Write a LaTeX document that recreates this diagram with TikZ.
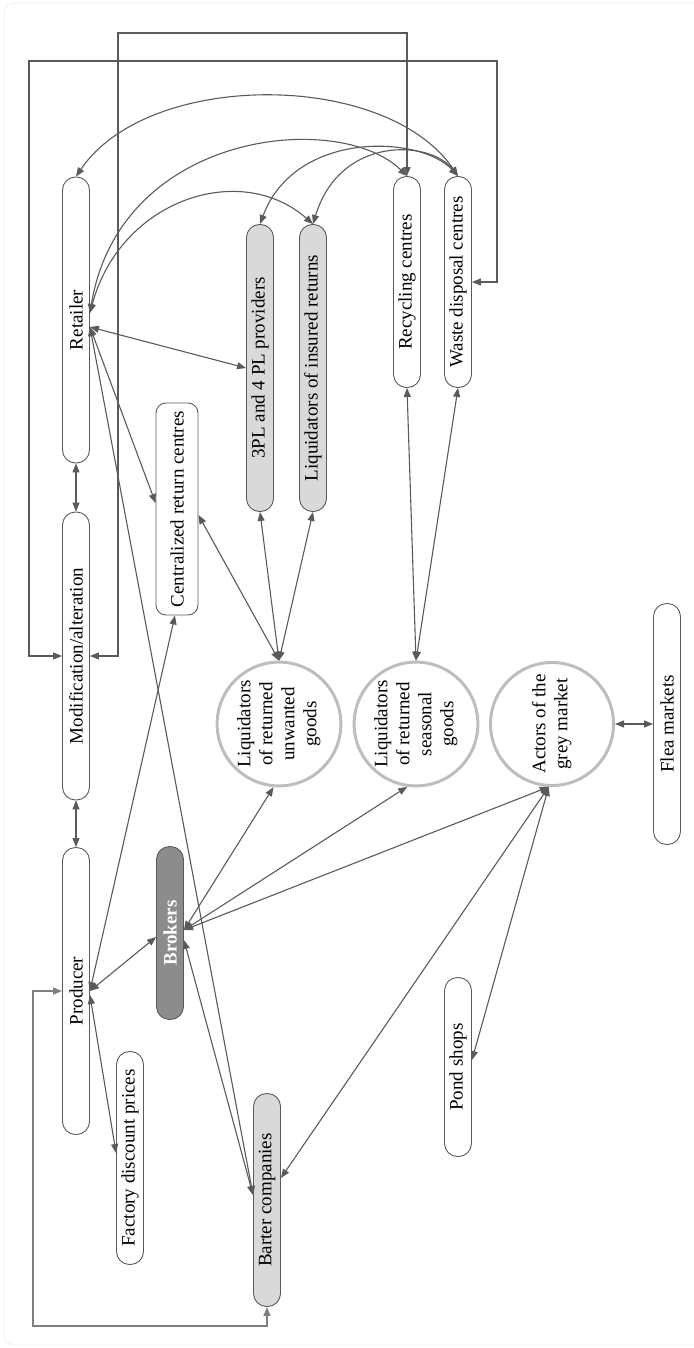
\documentclass[tikz,border=0pt]{standalone}
\usepackage{fontspec}
\setmainfont{Liberation Serif}
\usetikzlibrary{calc, arrows.meta}
\definecolor{linegray}{HTML}{5A5A5A}
\definecolor{boxgray}{HTML}{D9D9D9}
\definecolor{darkbox}{HTML}{8C8C8C}
\definecolor{ringgray}{HTML}{BDBDBD}
\definecolor{framegray}{HTML}{EDEDED}

\begin{document}
\begin{tikzpicture}[x=1pt, y=-1pt,
  font=\fontsize{19}{22}\selectfont,
  pill/.style={draw=linegray, line width=0.9pt, rounded corners=13pt,
    inner sep=0pt, minimum width=27pt},
  ring/.style={circle, draw=ringgray, line width=3pt, minimum size=123pt, inner sep=0pt},
  link/.style={draw=linegray, line width=1.1pt,
    {Triangle[length=9pt,width=7pt]}-{Triangle[length=9pt,width=7pt]}}]
  \useasboundingbox (0,0) rectangle (693,1348);
  % faint frame
  \draw[framegray, line width=0.8pt, rounded corners=10pt] (4,3) rectangle (740,1345);
  % boxes
  \node[pill, minimum height=286pt] (ret) at (76,320) {\rotatebox{90}{Retailer}};
  \node[pill, minimum height=288pt] (mod) at (76,656) {\rotatebox{90}{Modification/alteration}};
  \node[pill, minimum height=287pt] (pro) at (76,991) {\rotatebox{90}{Producer}};
  \node[pill, minimum width=42pt, rounded corners=10pt, minimum height=212pt] (cen) at (177,509)
    {\rotatebox{90}{Centralized return centres}};
  \node[pill, fill=boxgray, minimum height=287pt] (tpl) at (260,368) {\rotatebox{90}{3PL and 4 PL providers}};
  \node[pill, fill=boxgray, minimum height=287pt] (ins) at (313,368) {\rotatebox{90}{Liquidators of insured returns}};
  \node[pill, minimum height=211pt] (rec) at (407,282) {\rotatebox{90}{Recycling centres}};
  \node[pill, minimum height=211pt] (was) at (458,282) {\rotatebox{90}{Waste disposal centres}};
  \node[pill, fill=darkbox, text=white, font=\fontsize{19}{22}\selectfont\bfseries,
    minimum height=173pt] (bro) at (170,933) {\rotatebox{90}{Brokers}};
  \node[pill, minimum height=213pt] (fac) at (130,1158) {\rotatebox{90}{Factory discount prices}};
  \node[pill, fill=boxgray, minimum height=213pt] (bar) at (267,1200) {\rotatebox{90}{Barter companies}};
  \node[pill, minimum height=179pt] (pon) at (458,1067) {\rotatebox{90}{Pond shops}};
  \node[pill, minimum height=241pt] (fle) at (667,724) {\rotatebox{90}{Flea markets}};
  % circles
  \node[ring] (unw) at (279,724)
    {\rotatebox{90}{\begin{tabular}{@{}c@{}}Liquidators\\of returned\\unwanted\\goods\end{tabular}}};
  \node[ring] (sea) at (416,724)
    {\rotatebox{90}{\begin{tabular}{@{}c@{}}Liquidators\\of returned\\seasonal\\goods\end{tabular}}};
  \node[ring] (act) at (552,724)
    {\rotatebox{90}{\begin{tabular}{@{}c@{}}Actors of the\\grey market\end{tabular}}};
  % chain and brackets
  \draw[link] (ret.south) -- (mod.north);
  \draw[link] (mod.south) -- (pro.north);
  \draw[link] (mod.west) -| (29,61) -| (497,282) -- (was.east);
  \draw[link] (mod.east) -| (118,33) -| (rec.north);
  \draw[link, draw=gray, line width=1.6pt] (pro.west) -| (33,1326) -| (bar.south);
  % arcs over the top
  \draw[link] (ret.north) .. controls (148,70) and (386,70) .. (was.north);
  \draw[link] ([yshift=7pt]ret.east) .. controls (120,130) and (340,110) .. (rec.north);
  \draw[link] ([yshift=7pt]ret.east) .. controls (120,200) and (240,160) .. (ins.north);
  \draw[link] (was.north) .. controls (420,135) and (295,130) .. (tpl.north);
  \draw[link] (was.north) .. controls (430,140) and (340,135) .. (ins.north);
  % retailer
  \draw[link] ([yshift=-7pt]ret.east) -- (tpl.west);
  \draw[link] ([yshift=-7pt]ret.east) -- ([yshift=6pt]cen.west);
  \draw[link] ([yshift=-7pt]ret.east) -- ([yshift=5pt]bar.west);
  % producer
  \draw[link] (pro.east) -- ([xshift=-2pt]cen.south);
  \draw[link] (pro.east) -- ([yshift=-4pt]bro.west);
  \draw[link] ([yshift=-4pt]pro.east) -- ([yshift=5pt]fac.west);
  % brokers
  \draw[link] ([yshift=3pt]bro.east) -- (unw.-95);
  \draw[link] ([yshift=3pt]bro.east) -- (sea.-98);
  \draw[link] ([yshift=3pt]bro.east) -- (act.-93);
  \draw[link] ([yshift=-7pt]bro.east) -- ([yshift=5pt]bar.west);
  % liquidators
  \draw[link] (unw.north) -- ([yshift=-6pt]cen.east);
  \draw[link] (unw.north) -- (tpl.south);
  \draw[link] (unw.north) -- (ins.south);
  \draw[link] (sea.north) -- (rec.south);
  \draw[link] (sea.north) -- (was.south);
  % grey market
  \draw[link] (act.-93) -- ([yshift=22pt]bar.east);
  \draw[link] (act.-93) -- ([yshift=7pt]pon.east);
  \draw[link] (act.east) -- (fle.west);
\end{tikzpicture}
\end{document}
